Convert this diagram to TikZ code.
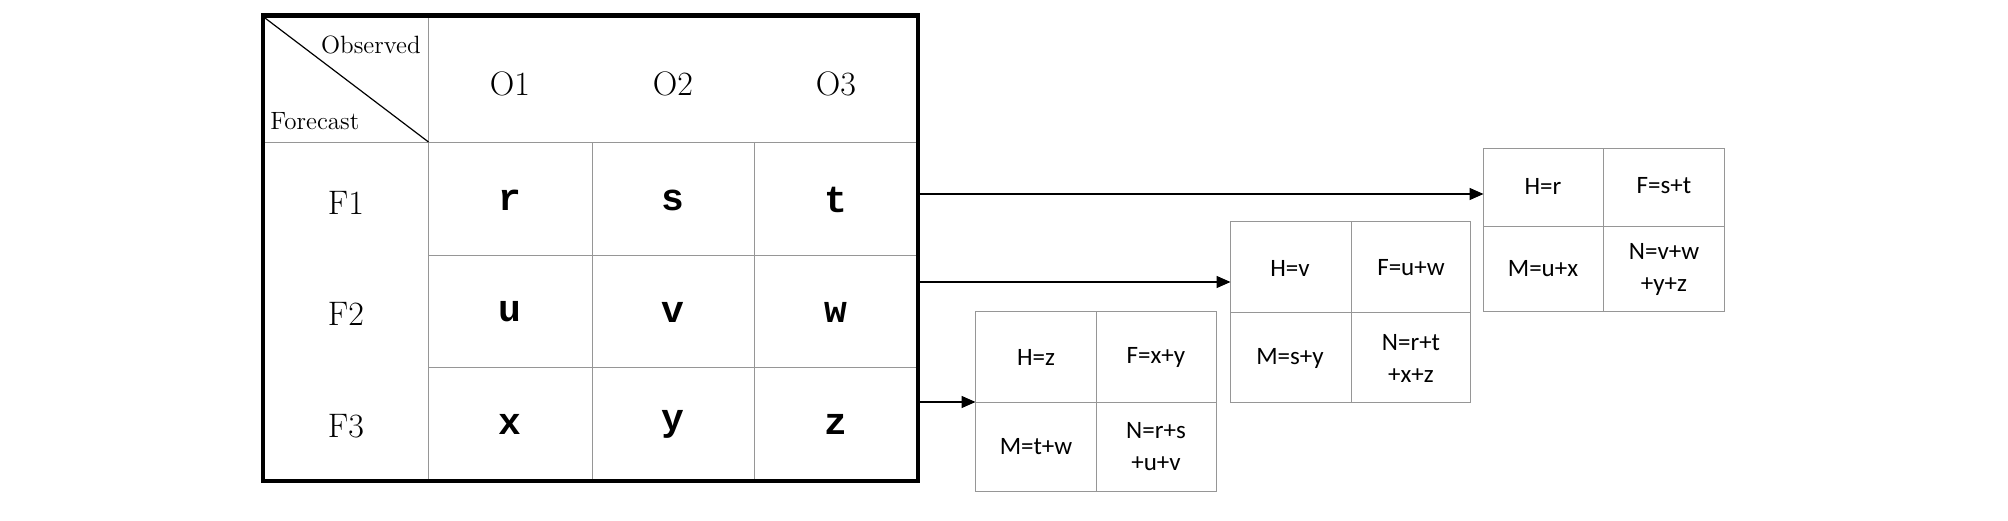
\documentclass[tikz,border=0pt]{standalone}
\usepackage{fontspec}
\newfontfamily\boxfont{Carlito}
\newfontfamily\cellfont{Liberation Mono}
\usetikzlibrary{arrows.meta}
\tikzset{every picture/.style={line width=0.75pt}}
\begin{document}
\begin{tikzpicture}[x=0.5pt,y=0.5pt,yscale=-1,xscale=1,
  grid/.style={draw={rgb, 255:red, 150; green, 150; blue, 150 },line width=0.5pt},
  head/.style={font=\fontsize{17}{20}\selectfont},
  cell/.style={font=\cellfont\bfseries\fontsize{19}{22}\selectfont},
  res/.style={font=\boxfont\fontsize{12.5}{16}\selectfont,align=center},
  link/.style={-{Triangle[length=7pt,width=6pt]},line width=0.75pt}]
\useasboundingbox (0,0) rectangle (2008,520);

%Main table grid
\draw [grid] (263,142) -- (918,142) ;
\draw [grid] (428.5,255) -- (918,255) ;
\draw [grid] (428.5,367) -- (918,367) ;
\draw [grid] (428.5,15.5) -- (428.5,481) ;
\draw [grid] (592,142) -- (592,481) ;
\draw [grid] (754.5,142) -- (754.5,481) ;
%Diagonal
\draw [line width=0.6pt] (265,18) -- (428.5,142) ;
%Outer border
\draw [line width=2.2pt] (263,15.5) rectangle (918,481) ;

% Text Node
\node [font=\fontsize{12.5}{15}\selectfont,anchor=east] (obs) at (428,45) {Observed};
\node [font=\fontsize{12.5}{15}\selectfont,anchor=west] (fc) at (263,121) {Forecast};
\node [head] (o1) at (510,84) {O1};
\node [head] (o2) at (673,84) {O2};
\node [head] (o3) at (836,84) {O3};
\node [head] (f1) at (346,203) {F1};
\node [head] (f2) at (346,314) {F2};
\node [head] (f3) at (346,426) {F3};
\node [cell] (r) at (510,200) {r};
\node [cell] (s) at (673,200) {s};
\node [cell] (t) at (836,200) {t};
\node [cell] (u) at (510,312) {u};
\node [cell] (v) at (673,312) {v};
\node [cell] (w) at (836,312) {w};
\node [cell] (x) at (510,424) {x};
\node [cell] (y) at (673,424) {y};
\node [cell] (z) at (836,424) {z};

%Result box A
\draw [grid] (1483.5,148.5) rectangle (1724,311) ;
\draw [grid] (1483.5,226) -- (1724,226) ;
\draw [grid] (1603.5,148.5) -- (1603.5,311) ;
\coordinate (ina) at (1483.5,194) ;
\node [res] (ha) at (1543,186) {H=r};
\node [res] (fa) at (1664,186) {F=s+t};
\node [res] (ma) at (1543,269) {M=u+x};
\node [res] (na) at (1664,269) {N=v+w\\+y+z};
%Result box B
\draw [grid] (1230.5,221) rectangle (1470,402) ;
\draw [grid] (1230.5,312) -- (1470,312) ;
\draw [grid] (1351,221) -- (1351,402) ;
\coordinate (inb) at (1230.5,282) ;
\node [res] (hb) at (1290,268) {H=v};
\node [res] (fb) at (1411,268) {F=u+w};
\node [res] (mb) at (1290,358) {M=s+y};
\node [res] (nb) at (1411,358) {N=r+t\\+x+z};
%Result box C
\draw [grid] (975.5,311) rectangle (1216,491) ;
\draw [grid] (975.5,402) -- (1216,402) ;
\draw [grid] (1096,311) -- (1096,491) ;
\coordinate (inc) at (975.5,402) ;
\node [res] (hc) at (1036,357) {H=z};
\node [res] (fc2) at (1156,357) {F=x+y};
\node [res] (mc) at (1036,447) {M=t+w};
\node [res] (nc) at (1156,447) {N=r+s\\+u+v};

%Arrows
\coordinate (outa) at (919,194) ;
\coordinate (outb) at (919,282) ;
\coordinate (outc) at (919,402) ;
\draw [link] (outa) -- (ina) ;
\draw [link] (outb) -- (inb) ;
\draw [link] (outc) -- (inc) ;

\end{tikzpicture}
\end{document}
